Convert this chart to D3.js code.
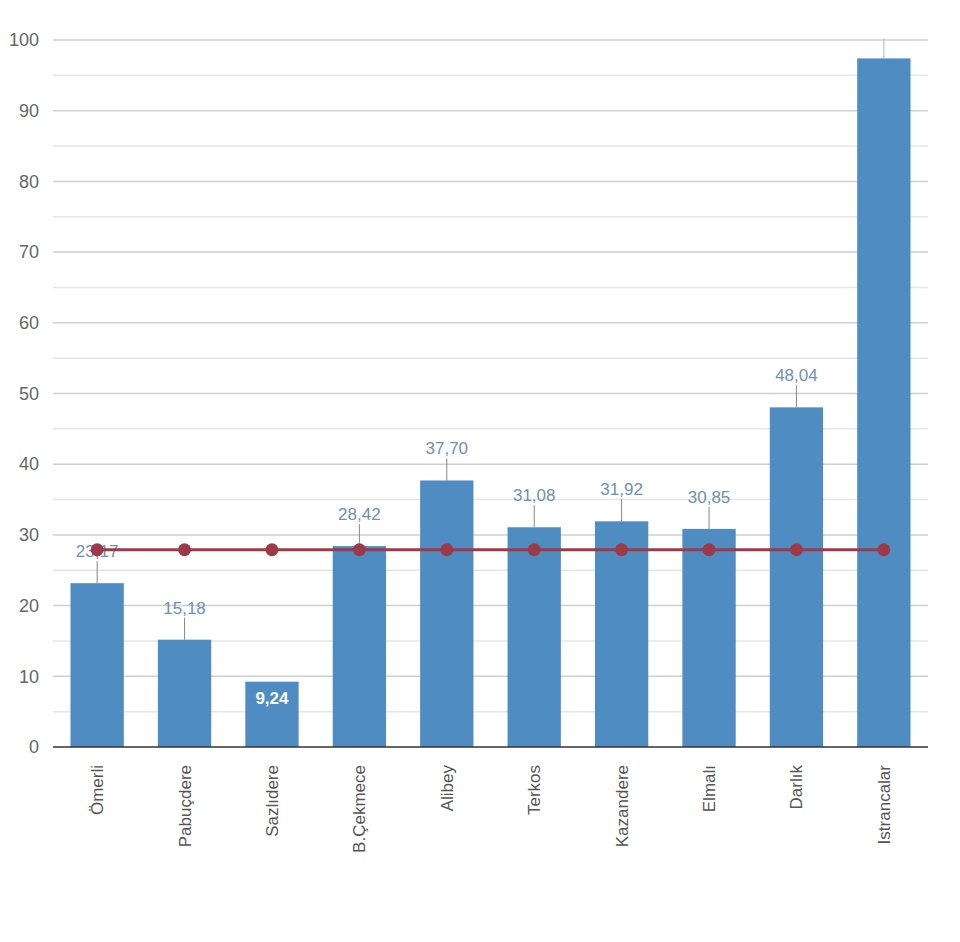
<!DOCTYPE html>
<html><head><meta charset="utf-8">
<script src="https://cdn.jsdelivr.net/npm/d3@7"></script>
<style>body{margin:0;background:#fff}</style></head>
<body><svg id="c" width="960" height="942"></svg>
<script>
const categories=["Ömerli","Pabuçdere","Sazlıdere","B.Çekmece","Alibey","Terkos","Kazandere","Elmalı","Darlık","Istrancalar"];
const values=[23.17,15.18,9.24,28.42,37.70,31.08,31.92,30.85,48.04,97.40];
const labels=["23,17","15,18","9,24","28,42","37,70","31,08","31,92","30,85","48,04",""];
const average=[27.9,27.9,27.9,27.9,27.9,27.9,27.9,27.9,27.9,27.9];
const yTicks=[0,10,20,30,40,50,60,70,80,90,100];

const svg=d3.select("#c");
const x=d3.scaleBand().domain(categories).range([53,928]).paddingInner(0.39).paddingOuter(0.2);
const y=d3.scaleLinear().domain([0,100]).range([747,40]);
const font="Arial, 'Liberation Sans', sans-serif";

svg.append("g").selectAll("line").data(d3.range(5,101,5)).join("line")
 .attr("x1",53).attr("x2",928).attr("y1",d=>y(d)).attr("y2",d=>y(d))
 .attr("stroke",d=>d%10===0?"#cfcfcf":"#e6e6e6").attr("stroke-width",1.5);

const ya=svg.append("g").attr("transform","translate(53,0)")
 .call(d3.axisLeft(y).tickValues(yTicks).tickSize(0).tickPadding(14));
ya.select(".domain").remove();
ya.selectAll("text").attr("font-family",font).attr("font-size",18).attr("fill","#666");

svg.append("g").selectAll("rect").data(values).join("rect")
 .attr("x",(d,i)=>x(categories[i])).attr("width",x.bandwidth())
 .attr("y",d=>y(d)).attr("height",d=>747-y(d)).attr("fill","#4f8cc1");

// leader lines and labels
values.forEach((v,i)=>{
 const cx=x(categories[i])+x.bandwidth()/2;
 if(i===2){
  svg.append("text").attr("x",cx).attr("y",y(v)+22).attr("text-anchor","middle")
   .attr("font-family",font).attr("font-size",17).attr("font-weight","bold").attr("fill","#fff").text(labels[i]);
  return;
 }
 svg.append("line").attr("x1",cx).attr("x2",cx).attr("y1",y(v)).attr("y2",y(v)-(i===9?20:22))
  .attr("stroke",i===9?"#9cbcd8":"#888").attr("stroke-width",1);
 if(labels[i]) svg.append("text").attr("x",cx).attr("y",y(v)-26).attr("text-anchor","middle")
  .attr("font-family",font).attr("font-size",17).attr("fill","#6f8fb5").text(labels[i]);
});

svg.append("line").attr("x1",53).attr("x2",928).attr("y1",747).attr("y2",747).attr("stroke","#333").attr("stroke-width",1.5);

const line=d3.line().x((d,i)=>x(categories[i])+x.bandwidth()/2).y(d=>y(d));
svg.append("path").datum(average).attr("d",line).attr("fill","none").attr("stroke","#9e3a48").attr("stroke-width",3);
svg.append("g").selectAll("circle").data(average).join("circle")
 .attr("cx",(d,i)=>x(categories[i])+x.bandwidth()/2).attr("cy",d=>y(d)).attr("r",6.5).attr("fill","#9e3a48");

svg.append("g").selectAll("text").data(categories).join("text")
 .attr("transform",d=>`translate(${x(d)+x.bandwidth()/2+6},${765}) rotate(-90)`)
 .attr("text-anchor","end").attr("font-family",font).attr("font-size",17).attr("fill","#555").text(d=>d);
</script></body></html>
